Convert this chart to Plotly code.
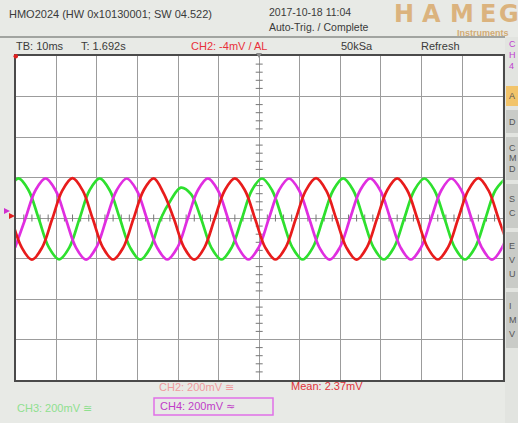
import plotly.graph_objects as go

# ---------------- data (read from the screen) ----------------
# time in ms (TB 10 ms/div, 12 div), voltage in mV (200 mV/div, 8 div)
ch3_green_t = [-1.8, 0.7, 3.2, 5.7, 8.2, 10.7, 13.2, 15.7, 18.2, 20.7, 23.2, 25.7, 28.2,
               30.7, 33.2, 35.7, 38.2, 40.7, 43.2, 45.7, 48.2, 50.7, 53.2, 55.7, 58.2,
               60.7, 63.2, 65.7, 68.2, 70.7, 73.2, 75.7, 78.2, 80.7, 83.2, 85.7, 88.2,
               90.7, 93.2, 95.7, 98.2, 100.7, 103.2, 105.7, 108.2, 110.7, 113.2, 115.7,
               118.2, 120.7]
ch3_green_v = [136, 196, 136, -5, -146, -204, -146, -5, 137, 196, 136, -5, -146,
               -206, -146, -5, 88, 150, 118, -5, -146, -205, -146, -5, 137,
               195, 136, -5, -146, -205, -146, -5, 136, 196, 136, -5, -146,
               -205, -146, -5, 136, 195, 136, -5, -146, -205, -146, -5,
               137, 196]

ch4_magenta_t = [-0.15, 2.35, 4.85, 7.35, 9.85, 12.35, 14.85, 17.35, 19.85, 22.35, 24.85,
                 27.35, 29.85, 32.35, 34.85, 37.35, 39.85, 42.35, 44.85, 47.35, 49.85,
                 52.35, 54.85, 57.35, 59.85, 62.35, 64.85, 67.35, 69.85, 72.35, 74.85,
                 77.35, 79.85, 82.35, 84.85, 87.35, 89.85, 92.35, 94.85, 97.35, 99.85,
                 102.35, 104.85, 107.35, 109.85, 112.35, 114.85, 117.35, 119.85, 122.35]
ch4_magenta_v = [-146, -5, 136, 196, 136, -5, -146, -206, -146, -5, 136,
                 195, 136, -5, -146, -205, -146, -5, 136, 196, 136,
                 -5, -146, -205, -146, -5, 136, 195, 136, -5, -146,
                 -206, -146, -5, 136, 196, 136, -5, -146, -205, -146,
                 -5, 136, 195, 136, -5, -146, -206, -146, -5]

ch2_red_t = [-1.0, 1.5, 4.0, 6.5, 9.0, 11.5, 14.0, 16.5, 19.0, 21.5, 24.0, 26.5, 29.0,
             31.5, 34.0, 36.5, 39.0, 41.5, 44.0, 46.5, 49.0, 51.5, 54.0, 56.5, 59.0,
             61.5, 64.0, 66.5, 69.0, 71.5, 74.0, 76.5, 79.0, 81.5, 84.0, 86.5, 89.0,
             91.5, 94.0, 96.5, 99.0, 101.5, 104.0, 106.5, 109.0, 111.5, 114.0, 116.5,
             119.0, 121.5]
ch2_red_v = [-5, -146, -206, -146, -5, 136, 197, 136, -5, -146, -205, -146, -5,
             136, 196, 120, -5, -146, -206, -146, -5, 136, 196, 136, -5,
             -146, -205, -146, -5, 136, 197, 136, -5, -146, -206, -146, -5,
             136, 196, 136, -5, -146, -205, -146, -5, 136, 197, 136,
             -5, -146]

x_range = [0, 120]
y_range = [-800, 800]
x_div, y_div = 10, 200

# ---------------- geometry helpers ----------------
W, H = 518, 423
def px(x):
    return x / W
def py(y):
    return 1 - y / H

PLOT_L, PLOT_R, PLOT_T, PLOT_B = 15.7, 502.7, 56, 380

fig = go.Figure()

# centre graticule minor ticks
fig.add_trace(go.Scatter(
    x=[t for t in range(2, 120, 2) if t % 10 != 0], y=[0] * 48,
    mode='markers', marker=dict(symbol='line-ns', size=5, line=dict(width=1, color='#777')),
    hoverinfo='skip', showlegend=False))
fig.add_trace(go.Scatter(
    x=[60] * 32, y=[v for v in range(-760, 800, 40) if v % 200 != 0],
    mode='markers', marker=dict(symbol='line-ew', size=5, line=dict(width=1, color='#777')),
    hoverinfo='skip', showlegend=False))

for t, v, c in [(ch3_green_t, ch3_green_v, '#2ee02e'),
                (ch4_magenta_t, ch4_magenta_v, '#e02ee0'),
                (ch2_red_t, ch2_red_v, '#e81c1c')]:
    fig.add_trace(go.Scatter(x=t, y=v, mode='lines',
                             line=dict(color=c, width=2.7, shape='spline', smoothing=1.0),
                             hoverinfo='skip', showlegend=False))

axis_common = dict(showgrid=True, gridcolor='#9c9c9c', gridwidth=1, zeroline=False,
                   showticklabels=False, ticks='', showline=True, linecolor='#4a4a4a',
                   linewidth=1.5, mirror=True, fixedrange=True)
fig.update_xaxes(range=x_range, dtick=x_div, tick0=0,
                 domain=[px(PLOT_L), px(PLOT_R)], **axis_common)
fig.update_yaxes(range=y_range, dtick=y_div, tick0=0,
                 domain=[py(PLOT_B), py(PLOT_T)], **axis_common)

shapes = []
# header separator line
shapes.append(dict(type='line', xref='paper', yref='paper', x0=0, x1=px(505),
                   y0=py(37), y1=py(37), line=dict(color='#8a8c88', width=1.5)))
# right side panel
shapes.append(dict(type='rect', xref='paper', yref='paper', x0=px(505), x1=1,
                   y0=0, y1=py(37), fillcolor='#e2e4e0', line=dict(width=0), layer='below'))
buttons = [(86, 106, '#f2c46a', ['A']), (110, 133, '#c9cbc7', ['D']),
           (137, 180, '#c9cbc7', ['C', 'M', 'D']), (184, 228, '#c9cbc7', ['S', 'C']),
           (232, 288, '#c9cbc7', ['E', 'V', 'U']), (292, 348, '#c9cbc7', ['I', 'M', 'V'])]
annotations = []


def txt(x, y, s, color='#333', size=11, bold=False, family='Liberation Sans'):
    if bold:
        s = '<b>' + s + '</b>'
    annotations.append(dict(x=px(x), y=py(y), xref='paper', yref='paper', text=s,
                            xanchor='left', yanchor='middle', showarrow=False, borderpad=0,
                            font=dict(size=size, color=color, family=family)))


for y0, y1, col, letters in buttons:
    shapes.append(dict(type='rect', xref='paper', yref='paper', x0=px(506), x1=px(522),
                       y0=py(y1), y1=py(y0), fillcolor=col, line=dict(width=0)))
    n = len(letters)
    for i, L in enumerate(letters):
        yy = y0 + (y1 - y0) * (i + 1) / (n + 1)
        txt(508, yy, L, '#555', 9)
for i, L in enumerate(['C', 'H', '4']):
    txt(508, 44 + 11 * i, L, '#c040d0', 9)

# CH4 box
shapes.append(dict(type='rect', xref='paper', yref='paper', x0=px(154), x1=px(273),
                   y0=py(415), y1=py(398), fillcolor='rgba(0,0,0,0)',
                   line=dict(color='#e070e8', width=1.5)))

# trigger position marker (top of centre line) and trigger-level dot
shapes.append(dict(type='path', xref='paper', yref='paper',
                   path=f'M {px(256)} {py(53)} L {px(262)} {py(53)} L {px(259)} {py(58)} Z',
                   fillcolor='#8a8a8a', line=dict(width=0)))
shapes.append(dict(type='circle', xref='paper', yref='paper',
                   x0=px(13.5), x1=px(18), y0=py(58.5), y1=py(54),
                   fillcolor='#e02020', line=dict(width=0)))
# channel ground markers on the left
shapes.append(dict(type='path', xref='paper', yref='paper',
                   path=f'M {px(4)} {py(208)} L {px(10)} {py(211)} L {px(4)} {py(214)} Z',
                   fillcolor='#d030d0', line=dict(width=0)))
shapes.append(dict(type='path', xref='paper', yref='paper',
                   path=f'M {px(9)} {py(213)} L {px(15)} {py(216)} L {px(9)} {py(219)} Z',
                   fillcolor='#e02020', line=dict(width=0)))

txt(8, 14, 'HMO2024 (HW 0x10130001; SW 04.522)', '#3a3a3a', 11)
txt(268, 12, '2017-10-18 11:04', '#3a3a3a', 10.5)
txt(268, 27, 'Auto-Trig. / Complete', '#3a3a3a', 10.5)
# HAMEG logo
for ch, xc in zip('HAMEG', [393, 421, 449, 479, 498]):
    txt(xc, 14, ch, '#dbb37e', 24, bold=True, family='DejaVu Sans')
txt(456, 33, 'Instruments', '#d2aa74', 9, bold=True)

txt(15, 46, 'TB: 10ms', '#3a3a3a', 11)
txt(80, 46, 'T: 1.692s', '#3a3a3a', 11)
txt(190, 46, 'CH2: -4mV / AL', '#e8303a', 11)
txt(340, 46, '50kSa', '#3a3a3a', 11)
txt(420, 46, 'Refresh', '#3a3a3a', 11)

SYM = '<span style="font-family:DejaVu Sans">{}</span>'
txt(158, 387, 'CH2: 200mV ' + SYM.format('≅'), '#f09a9e', 11)
txt(290, 386, 'Mean: 2.37mV', '#e0343a', 11)
txt(16, 408, 'CH3: 200mV ' + SYM.format('≅'), '#8fe08f', 11)
txt(159, 406, 'CH4: 200mV ' + SYM.format('≈'), '#c03cc8', 11)

fig.update_layout(width=W, height=H, margin=dict(l=0, r=0, t=0, b=0),
                  paper_bgcolor='#e8eae6', plot_bgcolor='white',
                  shapes=shapes, annotations=annotations, showlegend=False)

fig.write_html('out.html', config={'displayModeBar': False},
               post_script="document.body.style.margin='0';document.body.style.overflow='hidden';")
